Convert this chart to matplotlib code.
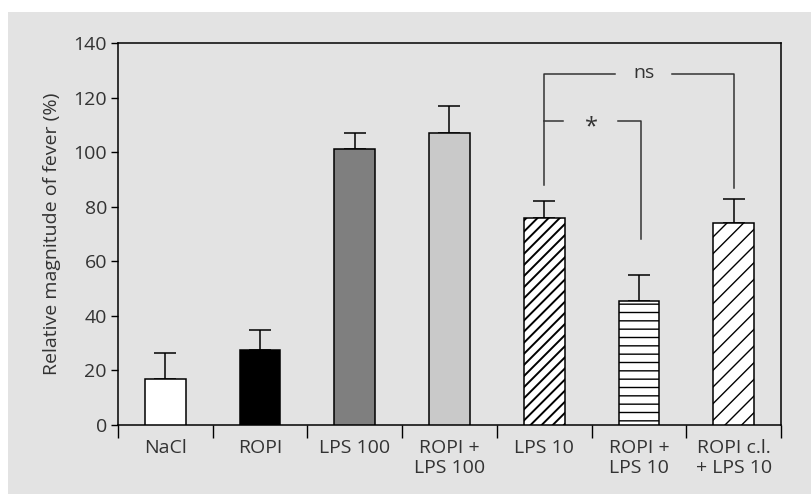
import matplotlib.pyplot as plt
import matplotlib as mpl
from matplotlib.patches import Rectangle

groups = ["NaCl", "ROPI", "LPS 100", "ROPI +\nLPS 100", "LPS 10", "ROPI +\nLPS 10", "ROPI c.l.\n+ LPS 10"]
fever = [17, 27.5, 101, 107, 75.8, 45.3, 74]
fever_err = [9.5, 7.5, 6, 10, 6.2, 9.7, 9]

colors = ["white", "black", "#7f7f7f", "#c9c9c9", "white", "white", "white"]
hatches = [None, None, None, None, "///", "--", "//"]

bg = "#e3e3e3"
txt = "#333333"

plt.rcParams["font.family"] = ["Open Sans", "DejaVu Sans"]
plt.rcParams["font.size"] = 14

fig = plt.figure(figsize=(8.12, 4.94), dpi=100, facecolor="white")
fig.patches.append(Rectangle((8 / 812, 0), 1, 1 - 12 / 494, transform=fig.transFigure,
                             facecolor=bg, edgecolor="none", zorder=-10))
ax = fig.add_axes([118 / 812, 1 - 425 / 494, (781 - 118) / 812, (425 - 43) / 494])
ax.set_facecolor(bg)

x = list(range(len(groups)))
for i in x:
    lw_h = 1.4 if hatches[i] == "///" else 1.0
    with mpl.rc_context({"hatch.linewidth": lw_h}):
        ax.bar(i, fever[i], width=0.43, color=colors[i], edgecolor="black",
               linewidth=1.1, hatch=hatches[i], zorder=3)
    ax.errorbar(i, fever[i], yerr=[[0], [fever_err[i]]], fmt="none", ecolor="black",
                elinewidth=1.1, capsize=8, capthick=1.1, zorder=2)

ax.set_xlim(-0.5, len(groups) - 0.5)
ax.set_ylim(0, 140)
ax.set_yticks(range(0, 141, 20))
ax.set_xticks(x)
ax.set_xticklabels(groups, color=txt, linespacing=1.15)
ax.set_xticks([i + 0.5 for i in range(-1, len(groups))], minor=True)
ax.tick_params(axis="x", which="major", length=0, pad=10)
ax.tick_params(axis="x", which="minor", length=9, width=1, direction="out")
ax.tick_params(axis="y", length=5, width=1, labelcolor=txt, pad=3)
for s in ax.spines.values():
    s.set_linewidth(1.1)
ax.set_ylabel("Relative magnitude of fever (%)", color=txt, labelpad=9)

# significance brackets
lc = "#333333"
ax.plot([4, 4, 4.75], [88, 128.5, 128.5], color=lc, lw=1.1)
ax.plot([5.35, 6, 6], [128.5, 128.5, 87], color=lc, lw=1.1)
ax.text(5.05, 129, "ns", ha="center", va="center", color=txt, fontsize=14)
ax.plot([4, 4.2], [111.5, 111.5], color=lc, lw=1.1)
ax.plot([4.78, 5.02, 5.02], [111.5, 111.5, 68], color=lc, lw=1.1)
ax.text(4.5, 109, "*", ha="center", va="center", color=txt, fontsize=17)

fig.savefig("out.png", dpi=100, facecolor="white")
